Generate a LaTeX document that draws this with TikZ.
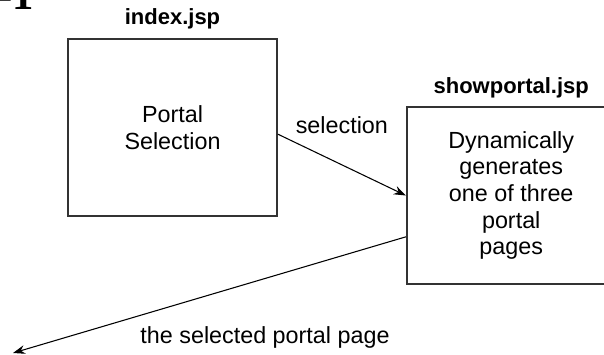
\documentclass[tikz,border=0pt]{standalone}
\usepackage{fontspec}
\setmainfont{Liberation Sans}
\newfontfamily\fignumfont{Liberation Serif}
\usetikzlibrary{arrows.meta, positioning}

\begin{document}
\begin{tikzpicture}[
    x=0.75pt, y=-0.75pt,
    page/.style={draw=black!80, line width=1.3pt, rectangle, align=center, minimum width=156.75pt, minimum height=132.75pt, font=\fontsize{17.5}{20}\selectfont},
    title/.style={inner sep=0pt, font=\bfseries\fontsize{16.5}{19}\selectfont},
    tag/.style={inner sep=0pt, font=\fontsize{17.5}{20}\selectfont},
    >={Stealth[length=9pt, width=6.5pt]}
]
\useasboundingbox (0,0) rectangle (604,354);
\clip (0,0) rectangle (604,354);

% figure number, cut off at the top edge
\node[anchor=base east, inner sep=0pt, font=\fignumfont\bfseries\fontsize{32}{32}\selectfont] (fignum) at (34,9) {21-1};

\node[page] (index) at (172.5,127.5) {Portal\\Selection};
\node[page, right=96pt of index, yshift=-51pt] (show) {Dynamically\\generates\\one of three\\portal\\pages};
\node[title, above=6.5pt of index] (indextitle) {index.jsp};
\node[title, above=6pt of show] (showtitle) {showportal.jsp};
\coordinate (browser) at (13,353);

\draw[->, line width=0.8pt] ([yshift=-5pt]index.east) -- (show.west) node[tag, midway, above=23pt] (sel) {selection};
\draw[->, line width=0.8pt] ([yshift=-31pt]show.west) -- (browser);
\node[tag] (result) at (265,337) {the selected portal page};

\end{tikzpicture}
\end{document}
